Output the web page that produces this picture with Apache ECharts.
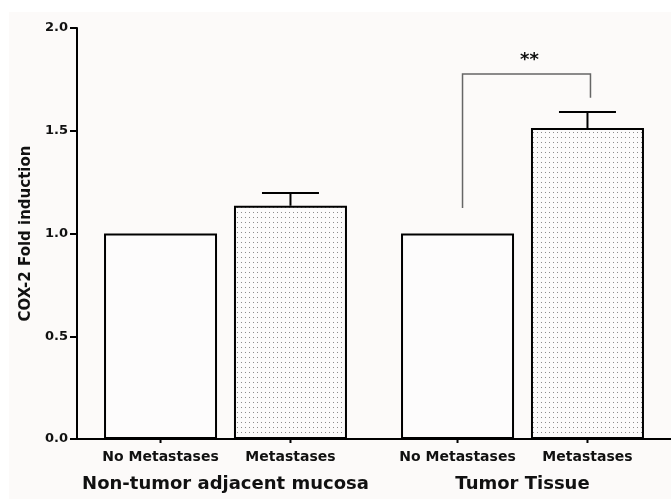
<!DOCTYPE html>
<html>
<head>
<meta charset="utf-8">
<script src="https://cdn.jsdelivr.net/npm/echarts@6/dist/echarts.min.js"></script>
<style>
 html, body { margin:0; padding:0; background:#ffffff; }
 #chart { width:671px; height:499px; }
</style>
</head>
<body>
<div id="chart"></div>
<script>
// data
var groups = ['Non-tumor adjacent mucosa', 'Tumor Tissue'];
var conditions = ['No Metastases', 'Metastases'];
var noMetValues = [1.0, 1.0];
var metValues = [1.135, 1.513];
var metErrors = [0.062, 0.078];   // upper SEM only
var yTicks = [0, 0.5, 1.0, 1.5, 2.0];
var sigGroup = 1;                 // bracket over Tumor Tissue
var sigLevels = [1.124, 1.776, 1.66]; // left leg bottom, top, right leg bottom
var sigText = '**';

var FONT = 'DejaVu Sans';
var BAR_W = 113, BAR_GAP = 0.15;
var OFF = BAR_W * (1 + BAR_GAP) / 2;   // distance of each bar centre from band centre

// dotted fill like the original
var dots = document.createElement('canvas');
dots.width = 4; dots.height = 5;
var g = dots.getContext('2d');
g.fillStyle = '#fcfbfb'; g.fillRect(0, 0, 4, 5);
g.fillStyle = '#8c8c8c'; g.fillRect(1, 2, 1, 1);

var myChart = echarts.init(document.getElementById('chart'), null, {renderer: 'canvas'});

var option = {
  backgroundColor: '#ffffff',
  animation: false,
  graphic: [{
    type: 'rect', left: 9, top: 12, z: -10, silent: true,
    shape: {width: 662, height: 487},
    style: {fill: '#fcfaf9'}
  }],
  grid: {left: 77, width: 598, top: 28, bottom: 60},
  xAxis: {
    type: 'category',
    data: groups,
    axisLine: {lineStyle: {color: '#000', width: 2}},
    axisTick: {show: false},
    axisLabel: {
      interval: 0, margin: 36, color: '#111',
      fontFamily: FONT, fontWeight: 'bold', fontSize: 18
    }
  },
  yAxis: {
    type: 'value',
    min: 0, max: 2, interval: 0.5,
    name: 'COX-2 Fold induction',
    nameLocation: 'middle',
    nameGap: 43,
    nameTextStyle: {color: '#111', fontFamily: FONT, fontWeight: 'bold', fontSize: 15},
    axisLine: {show: true, lineStyle: {color: '#000', width: 2}},
    axisTick: {show: true, length: 7, lineStyle: {color: '#000', width: 2}, customValues: yTicks},
    splitLine: {show: false},
    axisLabel: {
      margin: 9, color: '#111',
      fontFamily: FONT, fontWeight: 'bold', fontSize: 13,
      customValues: yTicks,
      formatter: function (v) { return v.toFixed(1); }
    }
  },
  series: [
    {
      name: conditions[0],
      type: 'bar',
      data: noMetValues,
      barWidth: BAR_W,
      barGap: (BAR_GAP * 100) + '%',
      itemStyle: {color: '#fdfcfc', borderColor: '#000', borderWidth: 2},
      label: {
        show: true, position: 'bottom', distance: 11,
        formatter: function (p) { return p.seriesName; },
        color: '#111', fontFamily: FONT, fontWeight: 'bold', fontSize: 14
      }
    },
    {
      name: conditions[1],
      type: 'bar',
      data: metValues,
      barWidth: BAR_W,
      itemStyle: {color: {image: dots, repeat: 'repeat'}, borderColor: '#000', borderWidth: 2},
      label: {
        show: true, position: 'bottom', distance: 11,
        formatter: function (p) { return p.seriesName; },
        color: '#111', fontFamily: FONT, fontWeight: 'bold', fontSize: 14
      }
    },
    {
      // small ticks under every bar
      type: 'custom',
      z: 5,
      silent: true,
      data: groups.map(function (n, i) { return [i, 0]; }),
      renderItem: function (params, api) {
        var c = api.coord([api.value(0), 0]);
        var kids = [-OFF, OFF].map(function (d) {
          return {type: 'line', shape: {x1: c[0] + d, y1: c[1], x2: c[0] + d, y2: c[1] + 4},
                  style: {stroke: '#000', lineWidth: 2}};
        });
        return {type: 'group', children: kids};
      }
    },
    {
      // upper error bars on the Metastases bars
      type: 'custom',
      z: 5,
      silent: true,
      data: metValues.map(function (v, i) { return [i, v, metErrors[i]]; }),
      renderItem: function (params, api) {
        var b = api.coord([api.value(0), api.value(1)]);
        var t = api.coord([api.value(0), api.value(1) + api.value(2)]);
        var x = b[0] + OFF;
        return {type: 'group', children: [
          {type: 'line', shape: {x1: x, y1: b[1], x2: x, y2: t[1]}, style: {stroke: '#000', lineWidth: 2}},
          {type: 'line', shape: {x1: x - 28.5, y1: t[1], x2: x + 28.5, y2: t[1]}, style: {stroke: '#000', lineWidth: 2}}
        ]};
      }
    },
    {
      // significance bracket
      type: 'custom',
      z: 5,
      silent: true,
      data: [[sigGroup].concat(sigLevels)],
      renderItem: function (params, api) {
        var i = api.value(0);
        var lb = api.coord([i, api.value(1)]);
        var tp = api.coord([i, api.value(2)]);
        var rb = api.coord([i, api.value(3)]);
        var xl = lb[0] - OFF + 5, xr = lb[0] + OFF + 3;
        return {type: 'group', children: [
          {type: 'polyline', shape: {points: [[xl, lb[1]], [xl, tp[1]], [xr, tp[1]], [xr, rb[1]]]},
           style: {stroke: '#666', lineWidth: 1.5, fill: null}},
          {type: 'text', x: (xl + xr) / 2 + 3, y: tp[1] - 5,
           style: {text: sigText, fill: '#111', font: 'bold 18px ' + FONT, align: 'center', verticalAlign: 'bottom'}}
        ]};
      }
    }
  ]
};

myChart.setOption(option);
</script>
</body>
</html>
